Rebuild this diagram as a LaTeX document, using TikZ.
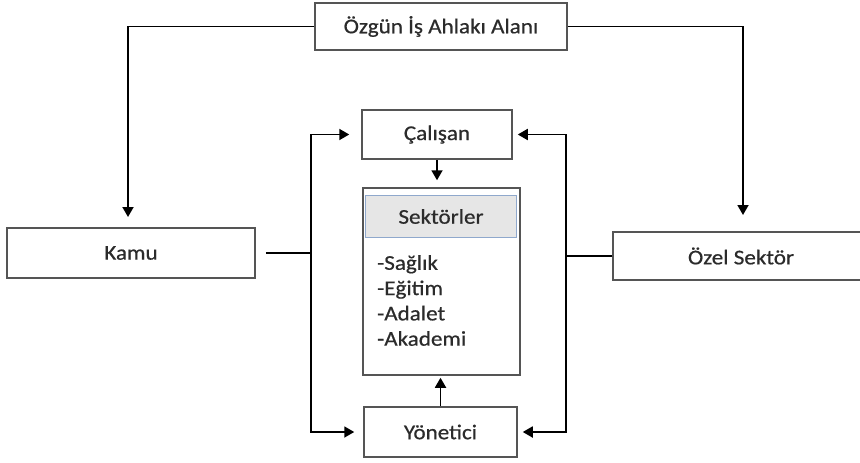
\documentclass[tikz,border=0pt]{standalone}
\usepackage{fontspec}
\setmainfont{Carlito}[FakeStretch=1.1, FakeBold=0.6]
\usetikzlibrary{arrows.meta}
\definecolor{boxline}{HTML}{555555}
\definecolor{txt}{HTML}{2B2B2B}
\definecolor{hdrfill}{HTML}{E6E6E6}
\definecolor{hdrline}{HTML}{8FA8CC}
\tikzset{
  box/.style={draw=boxline, line width=1.5pt, fill=white, text=txt, inner sep=0pt,
    font=\fontsize{21}{25}\selectfont},
  conn/.style={draw=black, line width=1.8pt},
  arr/.style={conn, -{Triangle[length=10pt,width=11pt]}},
}
\begin{document}
\begin{tikzpicture}[x=1pt,y=-1pt]
\clip (0,0) rectangle (860,463);
\fill[white] (0,0) rectangle (860,463);
\node[box, minimum width=252pt, minimum height=47pt] (top) at (441,26.5) {Özgün İş Ahlakı Alanı};
\node[box, minimum width=150pt, minimum height=49pt] (calisan) at (437,134.5) {Çalışan};
\node[box, minimum width=157pt, minimum height=187pt] (sektor) at (441.5,281.5) {};
\node[draw=hdrline, line width=1.2pt, fill=hdrfill, text=txt, inner sep=0pt,
  font=\fontsize{21}{25}\selectfont, minimum width=151pt, minimum height=42pt] (hdr) at (441,216.5) {Sektörler};
\node[text=txt, inner sep=0pt, anchor=north west, align=left,
  font=\fontsize{21}{25.3}\selectfont] (list) at (377,255) {-Sağlık\\-Eğitim\\-Adalet\\-Akademi};
\node[box, minimum width=248pt, minimum height=50pt] (kamu) at (131,253) {Kamu};
\node[box, minimum width=256pt, minimum height=48pt] (ozel) at (741,256) {Özel Sektör};
\node[box, minimum width=153pt, minimum height=50pt] (yonetici) at (440.5,432) {Yönetici};
\coordinate (L) at (311,253);
\coordinate (R) at (566,256);
\coordinate (kamuin) at (128,228);
\coordinate (ozelin) at (743,232);
% top to sides
\draw[arr, shorten >=11pt] (top.west) -| (kamuin);
\draw[arr, shorten >=17pt] (top.east) -| (ozelin);
% Kamu side
\draw[conn] ([xshift=10pt]kamu.east) -- (L);
\draw[arr, shorten >=12pt] (L) |- (calisan.west);
\draw[arr, shorten >=9pt] (L) |- (yonetici.west);
% Ozel side
\draw[conn] (ozel.west) -- (R);
\draw[arr, shorten >=5pt] (R) |- (calisan.east);
\draw[arr, shorten >=5pt] (R) |- (yonetici.east);
% vertical
\draw[arr, shorten >=7pt] (calisan.south) -- (calisan.south |- sektor.north);
\draw[arr, shorten >=2pt] (yonetici.north) -- (yonetici.north |- sektor.south);
\end{tikzpicture}
\end{document}
